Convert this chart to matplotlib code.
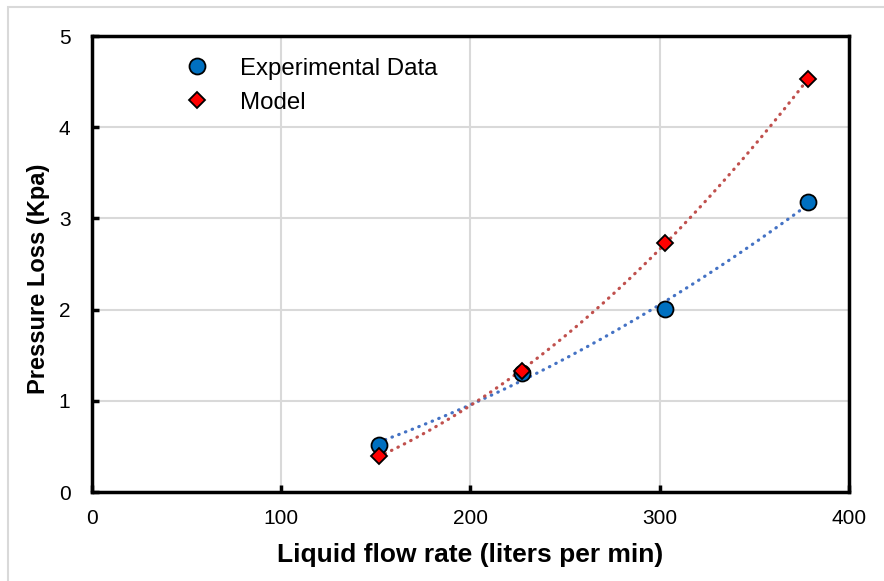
import numpy as np
import matplotlib
matplotlib.use("Agg")
import matplotlib.pyplot as plt
from matplotlib.patches import Rectangle

plt.rcParams['font.family'] = ['Liberation Sans', 'DejaVu Sans']

flow = [151.4, 227.1, 302.8, 378.5]
exp_vals = [0.52, 1.30, 2.01, 3.18]
model_vals = [0.39, 1.33, 2.73, 4.53]
x_ticks = [0, 100, 200, 300, 400]
y_ticks = [0, 1, 2, 3, 4, 5]

fig = plt.figure(figsize=(8.84, 5.81), dpi=100)
fig.patches.append(Rectangle((8/884, -0.1), 1.2, 1 - 7/581 + 0.1, transform=fig.transFigure,
                             fill=False, edgecolor='#d9d9d9', linewidth=1.5))
ax = fig.add_axes([92/884, 1 - 492/581, (849 - 92)/884, (492 - 36)/581])

xs = np.linspace(min(flow), max(flow), 200)
for vals, c in [(exp_vals, '#4472C4'), (model_vals, '#C0504D')]:
    p = np.polyfit(flow, vals, 2)
    ax.plot(xs, np.polyval(p, xs), linestyle=(0, (0.15, 2.1)), color=c, linewidth=2.3,
            dash_capstyle='round', zorder=2)

ax.plot(flow, exp_vals, 'o', markersize=11.5, markerfacecolor='#0070C0', markeredgecolor='black',
        markeredgewidth=1.3, linestyle='none', label='Experimental Data', zorder=3)
ax.plot(flow, model_vals, 'D', markersize=8, markerfacecolor='#FF0000', markeredgecolor='black',
        markeredgewidth=1.3, linestyle='none', label='Model', zorder=4)

ax.set_xlim(0, 400)
ax.set_ylim(0, 5)
ax.set_xticks(x_ticks)
ax.set_yticks(y_ticks)
ax.grid(True, color='#d9d9d9', linewidth=1.5)
ax.set_axisbelow(True)
for s in ax.spines.values():
    s.set_linewidth(2.5)
    s.set_color('black')
ax.tick_params(direction='in', length=5, width=2.5, labelsize=15)
ax.tick_params(axis='y', pad=15.5)
ax.tick_params(axis='x', pad=12)

ax.set_xlabel('Liquid flow rate (liters per min)', fontsize=19, fontweight='bold', labelpad=11)
ax.set_ylabel('Pressure Loss (Kpa)', fontsize=17, fontweight='bold', labelpad=6, y=0.467)

leg = ax.legend(loc='upper left', bbox_to_anchor=(0.123, 0.952), frameon=False, fontsize=17.3,
                handlelength=1.0, handletextpad=1.3, labelspacing=0.5, borderpad=0,
                borderaxespad=0)

fig.savefig('out.png', dpi=100)
